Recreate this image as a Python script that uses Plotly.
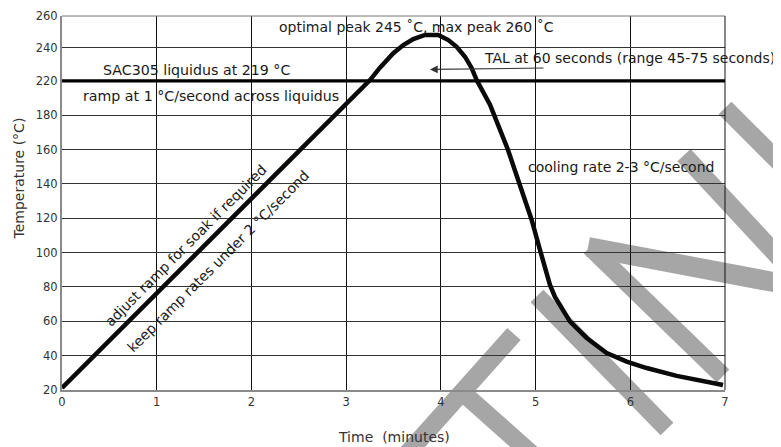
import plotly.graph_objects as go

# ---------------- data ----------------
# Reflow profile: time in minutes, temperature in the chart's own (linear) axis units
TIME_MIN = [0.0, 1.0, 2.0, 3.0, 3.252, 3.357, 3.498, 3.604, 3.709, 3.833, 3.973,
            4.079, 4.167, 4.255, 4.326, 4.378, 4.466, 4.519, 4.709, 4.836, 4.959,
            5.047, 5.152, 5.205, 5.258, 5.364, 5.540, 5.751, 5.962, 6.173, 6.490,
            6.736, 6.979]
TEMP_AXIS = [21.2, 76.3, 131.4, 186.5, 200.5, 207.7, 216.1, 220.9, 224.4, 226.8, 226.8,
             223.8, 219.9, 214.1, 207.4, 200.5, 190.8, 186.2, 159.8, 138.4, 119.0,
             101.5, 81.2, 74.2, 69.5, 59.8, 50.3, 41.5, 36.5, 32.8, 28.2,
             25.2, 22.9]

# y ticks: positions on the linear axis and the labels printed at them
Y_TICK_POS = [20, 40, 60, 80, 100, 120, 140, 160, 180, 200, 219.4, 237.8]
Y_TICK_TEXT = ["20", "40", "60", "80", "100", "120", "140", "160", "180", "220", "240", "260"]
X_TICKS = [0, 1, 2, 3, 4, 5, 6, 7]
X_TICK_TEXT = ["0", "1", "2", "3", "4", "5", "6", "7"]

LIQUIDUS_AXIS_Y = 200  # the thick line drawn at the "220" tick

# annotation texts
T_PEAK = "optimal peak 245 ˚C, max peak 260 ˚C"
T_LIQ = "SAC305 liquidus at 219 °C"
T_RAMP = "ramp at 1 °C/second across liquidus"
T_TAL = "TAL at 60 seconds (range 45-75 seconds)"
T_COOL = "cooling rate 2-3 °C/second"
T_SOAK = "adjust ramp for soak if required"
T_KEEP = "keep ramp rates under 2 °C/second"
X_TITLE = "Time  (minutes)"
Y_TITLE = "Temperature (°C)"

FONT = "DejaVu Sans"
TXT = "#1a1a1a"

fig = go.Figure()

fig.add_trace(go.Scatter(
    x=TIME_MIN, y=TEMP_AXIS, mode="lines",
    line=dict(color="#0a0a0a", width=4.5),
    hoverinfo="skip", showlegend=False,
))

fig.add_hline(y=LIQUIDUS_AXIS_Y, line=dict(color="#000000", width=3.2))

# plot border (top and right)
fig.add_shape(type="line", xref="paper", yref="paper", x0=0, x1=1, y0=1, y1=1,
              line=dict(color="#777777", width=1))
fig.add_shape(type="line", xref="paper", yref="paper", x0=1, x1=1, y0=0, y1=1,
              line=dict(color="#111111", width=1))

# watermark strokes (decoration, paper coordinates)
WM = "#a6a6a6"
strokes = [
    (0.5173, -0.1765, 0.6817, 0.1497, 18),
    (0.6033, -0.0053, 0.7511, -0.2380, 18),
    (0.7164, 0.2513, 0.9125, -0.1043, 18),
    (0.7964, 0.3824, 0.9970, 0.0374, 18),
    (0.7934, 0.3824, 1.1131, 0.2754, 20),
    (0.9382, 0.6283, 1.1131, 0.2941, 18),
    (1.0000, 0.7540, 1.1131, 0.5535, 18),
]
for x0, y0, x1, y1, w in strokes:
    fig.add_shape(type="line", xref="paper", yref="paper", x0=x0, y0=y0, x1=x1, y1=y1,
                  line=dict(color=WM, width=w), layer="below")

def ann(text, x, y, angle=0, size=14):
    fig.add_annotation(text=text, x=x, y=y, xref="x", yref="y", showarrow=False,
                       textangle=angle, font=dict(family=FONT, size=size, color=TXT),
                       xanchor="center", yanchor="middle")

ann(T_PEAK, 3.738, 231.4)
ann(T_LIQ, 1.415, 206.4, size=14.2)
ann(T_RAMP, 1.578, 191.4, size=14.2)
ann(T_TAL, 5.995, 213.4)
ann(T_COOL, 5.897, 150.0)
ann(T_SOAK, 1.299, 104.0, angle=-45)
ann(T_KEEP, 1.650, 95.2, angle=-45)

# TAL arrow
fig.add_annotation(x=3.885, y=206.7, ax=5.10, ay=207.5, xref="x", yref="y",
                   axref="x", ayref="y", text="", showarrow=True,
                   arrowhead=2, arrowsize=1.4, arrowwidth=1.1, arrowcolor="#333333")

# axis titles
fig.add_annotation(text=Y_TITLE, x=-0.0649, y=0.5655, xref="paper", yref="paper",
                   showarrow=False, textangle=-90, xanchor="center", yanchor="middle",
                   font=dict(family=FONT, size=14, color="#333333"))
fig.add_annotation(text=X_TITLE, x=0.5, y=-0.1250, xref="paper", yref="paper",
                   showarrow=False, xanchor="center", yanchor="middle",
                   font=dict(family=FONT, size=14, color="#333333"))

# page has an 8px body margin: plot area lands at x 62..725, y 16..390 on screen
fig.update_layout(
    width=773, height=439,
    margin=dict(l=54, r=56, t=8, b=57, autoexpand=False),
    paper_bgcolor="white", plot_bgcolor="rgba(0,0,0,0)",
    showlegend=False,
    font=dict(family=FONT),
)
fig.update_xaxes(range=[0, 7], tickvals=X_TICKS, ticktext=X_TICK_TEXT, automargin=False,
                 showgrid=True, gridcolor="#111111", gridwidth=1,
                 showline=True, linecolor="#8a8a8a", linewidth=2, zeroline=False,
                 ticks="", tickfont=dict(family=FONT, size=11.5, color="#333333"))
fig.update_yaxes(range=[20, 237.8], tickvals=Y_TICK_POS, ticktext=Y_TICK_TEXT, automargin=False,
                 showgrid=True, gridcolor="#333333", gridwidth=1,
                 showline=True, linecolor="#8a8a8a", linewidth=2, zeroline=False,
                 ticks="", tickfont=dict(family=FONT, size=11.5, color="#333333"))

fig.write_html("out.html")
